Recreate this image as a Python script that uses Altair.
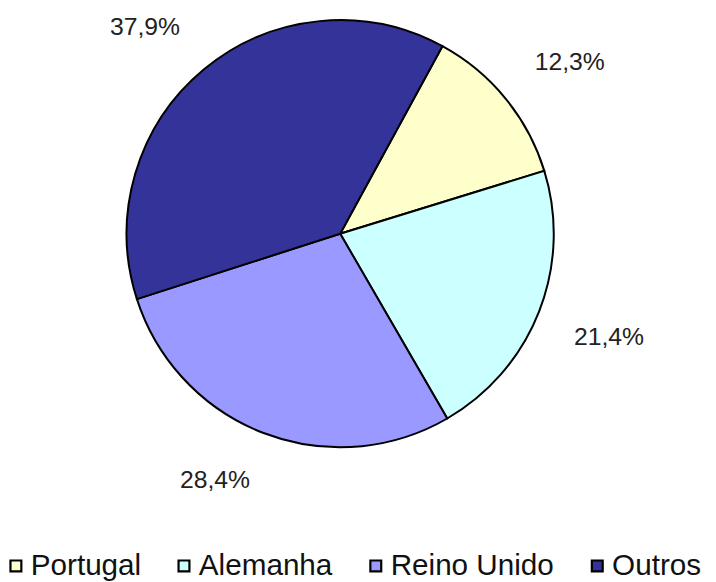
import math
import altair as alt
import pandas as pd

categories = ["Portugal", "Alemanha", "Reino Unido", "Outros"]
values = [12.3, 21.4, 28.4, 37.9]
labels = ["12,3%", "21,4%", "28,4%", "37,9%"]
colors = ["#FFFFCC", "#CCFFFF", "#9999FF", "#333399"]

df = pd.DataFrame({
    "cat": categories,
    "value": values,
    "label": labels,
    "idx": list(range(len(categories))),
})

start_deg = 28.6
start = math.radians(start_deg)
total = sum(values)
theta_scale = alt.Scale(domain=[0, total], range=[start, start + 2 * math.pi])

# mid angle of each slice (degrees, clockwise from top), from the stacked fields
mid = f"(((datum.value_start + datum.value_end) / 2 / {total} * 360 + {start_deg}) % 360)"

base = alt.Chart(df).encode(
    theta=alt.Theta("value:Q", stack=True, scale=theta_scale),
    order=alt.Order("idx:Q"),
)

pie = base.mark_arc(stroke="black", strokeWidth=2).encode(
    x=alt.value(336),
    y=alt.value(225),
    radius=alt.value(216),
    color=alt.Color(
        "cat:N",
        scale=alt.Scale(domain=categories, range=colors),
        legend=alt.Legend(
            title=None,
            orient="none",
            direction="horizontal",
            legendX=-7,
            legendY=546,
            padding=0,
            symbolType="square",
            symbolSize=121,
            symbolStrokeColor="black",
            symbolStrokeWidth=2.2,
            symbolOpacity=1,
            labelFont="Liberation Sans",
            labelFontSize=30,
            labelColor="#111111",
            labelOffset=0,
            columnPadding=28,
            labelLimit=300,
        ),
    ),
)

text = base.mark_text(
    font="Liberation Sans",
    fontSize=25,
    color="#222222",
    align=alt.expr(f"{mid} < 180 ? 'left' : 'right'"),
    baseline=alt.expr(f"({mid} > 90 && {mid} < 270) ? 'top' : 'bottom'"),
).encode(
    x=alt.value(336),
    y=alt.value(225),
    radius=alt.value(254),
    text="label:N",
)

chart = (pie + text).properties(
    width=708,
    height=574,
    padding=0,
    autosize=alt.AutoSizeParams(type="none"),
).configure_view(stroke=None)

chart.save("out.html", embed_options={"renderer": "svg", "actions": False})
